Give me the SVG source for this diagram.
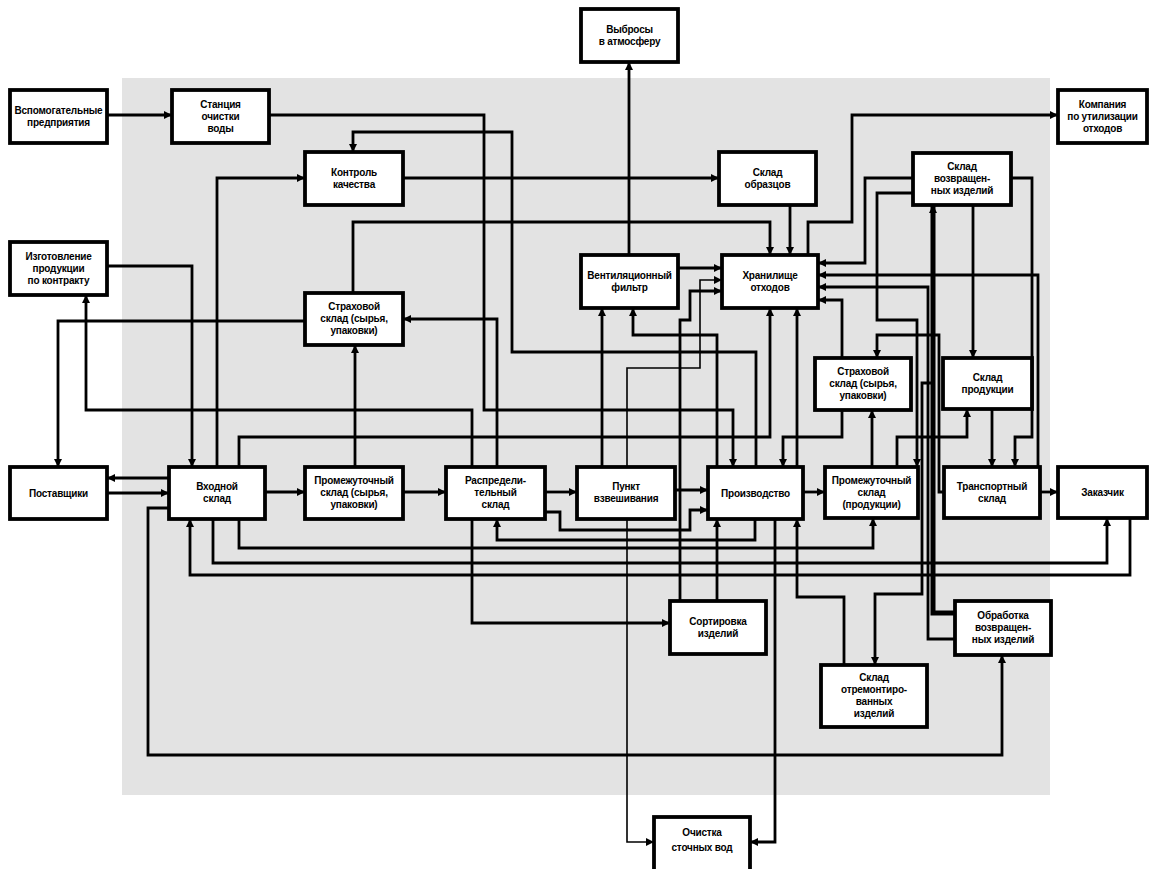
<svg xmlns="http://www.w3.org/2000/svg" width="1149" height="869" viewBox="0 0 1149 869">
<style>
.bg{fill:#e3e3e3}
.box{fill:#fff;stroke:#000;stroke-width:3.8}
.t{font-family:"Liberation Sans",Arial,sans-serif;font-size:10px;font-weight:bold;fill:#000;text-anchor:middle;letter-spacing:-0.2px}
.c path{fill:none;stroke:#000;stroke-width:2.8;stroke-linejoin:miter;marker-end:url(#ah)}
.c path.thin{stroke-width:1.6}
.c path.thick{stroke-width:5}
</style>
<defs>
<marker id="ah" markerWidth="10" markerHeight="10" refX="8" refY="4.5" orient="auto" markerUnits="userSpaceOnUse">
<path d="M0,0.5 L8,4.5 L0,8.5 z" fill="#000"/>
</marker>
</defs>
<rect width="1149" height="869" fill="#fff"/>
<rect class="bg" x="122" y="78" width="928" height="717"/>

<g id="connectors" class="c">
<path d="M107,115 H172"/>
<path d="M269,115 H484 V410 H733 V467"/>
<path d="M756,467 V352 H512 V132 H353 V152"/>
<path d="M403,178 H719"/>
<path d="M217,467 V178 H305"/>
<path d="M353,293 V222 H770 V255"/>
<path d="M790,205 V255"/>
<path d="M808,255 V222 H852 V115 H1058"/>
<path d="M629,255 V62"/>
<path d="M678,268 H722"/>
<path class="thin" d="M627,467 V368 H700 V280 H722"/>
<path d="M680,601 V320 H690 V291 H722"/>
<path d="M602,467 V308"/>
<path d="M717,467 V335 H633 V308"/>
<path d="M107,266 H192 V467"/>
<path d="M472,467 V410 H86 V295"/>
<path d="M497,467 V319 H403"/>
<path d="M305,321 H58 V467"/>
<path d="M355,467 V345"/>
<path d="M169,478 H107"/>
<path d="M107,493 H169"/>
<path d="M265,492 H305"/>
<path d="M403,492 H446"/>
<path d="M545,492 H577"/>
<path d="M675,490 H708"/>
<path d="M545,512 H560 V530 H690 V510 H708"/>
<path d="M755,519 V540 H497 V519"/>
<path d="M472,519 V623 H670"/>
<path d="M717,601 V519"/>
<path d="M844,665 V597 H797 V519"/>
<path d="M775,519 V842 H750"/>
<path class="thin" d="M627,519 V842 H654"/>
<path d="M239,467 V437 H770 V308"/>
<path d="M797,467 V308"/>
<path d="M842,410 V437 H783 V467"/>
<path d="M239,519 V548 H873 V518"/>
<path d="M213,519 V563 H1107 V518"/>
<path d="M1130,518 V575 H190 V519"/>
<path d="M169,508 H148 V755 H1002 V655"/>
<path d="M803,492 H825"/>
<path d="M1040,492 H1058"/>
<path d="M913,178 H865 V263 H818"/>
<path d="M913,193 H877 V320 H917 V467"/>
<path class="thick" d="M955,613 H933 V205"/>
<path d="M955,639 H928 V287 H818"/>
<path d="M933,383 H922 V594 H875 V665"/>
<path d="M944,492 H939 V335 H877 V358"/>
<path d="M842,358 V300 H818"/>
<path d="M1038,467 V275 H818"/>
<path d="M1011,178 H1032 V437 H1015 V467"/>
<path d="M973,205 V358"/>
<path d="M992,409 V467"/>
<path d="M897,467 V437 H967 V409"/>
<path d="M872,467 V410"/>
</g>

<g id="n_vspom"><rect class="box" x="10" y="90" width="97" height="53"/><text class="t" x="58.5" y="113.5">Вспомогательные</text><text class="t" x="58.5" y="125.5">предприятия</text></g>
<g id="n_stanc"><rect class="box" x="172" y="90" width="97" height="53"/><text class="t" x="220.5" y="107.5">Станция</text><text class="t" x="220.5" y="119.5">очистки</text><text class="t" x="220.5" y="131.5">воды</text></g>
<g id="n_kontrol"><rect class="box" x="305" y="152" width="98" height="53"/><text class="t" x="354" y="175.5">Контроль</text><text class="t" x="354" y="187.5">качества</text></g>
<g id="n_vybrosy"><rect class="box" x="581" y="9" width="97" height="53"/><text class="t" x="629.5" y="32.5">Выбросы</text><text class="t" x="629.5" y="44.5">в атмосферу</text></g>
<g id="n_obrazcy"><rect class="box" x="719" y="152" width="97" height="53"/><text class="t" x="767.5" y="175.5">Склад</text><text class="t" x="767.5" y="187.5">образцов</text></g>
<g id="n_kompan"><rect class="box" x="1058" y="90" width="89" height="53"/><text class="t" x="1102.5" y="107.5">Компания</text><text class="t" x="1102.5" y="119.5">по утилизации</text><text class="t" x="1102.5" y="131.5">отходов</text></g>
<g id="n_vozvr"><rect class="box" x="913" y="153" width="98" height="52"/><text class="t" x="962" y="170">Склад</text><text class="t" x="962" y="182">возвращен-</text><text class="t" x="962" y="194">ных изделий</text></g>
<g id="n_izgot"><rect class="box" x="10" y="242" width="97" height="53"/><text class="t" x="58.5" y="259.5">Изготовление</text><text class="t" x="58.5" y="271.5">продукции</text><text class="t" x="58.5" y="283.5">по контракту</text></g>
<g id="n_strah1"><rect class="box" x="305" y="293" width="98" height="52"/><text class="t" x="354" y="310">Страховой</text><text class="t" x="354" y="322">склад (сырья,</text><text class="t" x="354" y="334">упаковки)</text></g>
<g id="n_filtr"><rect class="box" x="581" y="255" width="97" height="53"/><text class="t" x="629.5" y="278.5">Вентиляционный</text><text class="t" x="629.5" y="290.5">фильтр</text></g>
<g id="n_hranil"><rect class="box" x="722" y="255" width="96" height="53"/><text class="t" x="770" y="278.5">Хранилище</text><text class="t" x="770" y="290.5">отходов</text></g>
<g id="n_strah2"><rect class="box" x="815" y="358" width="96" height="52"/><text class="t" x="863" y="375">Страховой</text><text class="t" x="863" y="387">склад (сырья,</text><text class="t" x="863" y="399">упаковки)</text></g>
<g id="n_prodsklad"><rect class="box" x="943" y="358" width="89" height="51"/><text class="t" x="987.5" y="380.5">Склад</text><text class="t" x="987.5" y="392.5">продукции</text></g>
<g id="n_postav"><rect class="box" x="10" y="467" width="97" height="52"/><text class="t" x="58.5" y="496.5">Поставщики</text></g>
<g id="n_vhod"><rect class="box" x="169" y="467" width="96" height="52"/><text class="t" x="217" y="490">Входной</text><text class="t" x="217" y="502">склад</text></g>
<g id="n_prom1"><rect class="box" x="305" y="467" width="98" height="52"/><text class="t" x="354" y="484">Промежуточный</text><text class="t" x="354" y="496">склад (сырья,</text><text class="t" x="354" y="508">упаковки)</text></g>
<g id="n_raspr"><rect class="box" x="446" y="467" width="99" height="52"/><text class="t" x="495.5" y="484">Распредели-</text><text class="t" x="495.5" y="496">тельный</text><text class="t" x="495.5" y="508">склад</text></g>
<g id="n_punkt"><rect class="box" x="577" y="467" width="98" height="52"/><text class="t" x="626" y="490">Пункт</text><text class="t" x="626" y="502">взвешивания</text></g>
<g id="n_proizv"><rect class="box" x="708" y="467" width="95" height="52"/><text class="t" x="755.5" y="496.5">Производство</text></g>
<g id="n_prom2"><rect class="box" x="825" y="467" width="93" height="51"/><text class="t" x="871.5" y="483.5">Промежуточный</text><text class="t" x="871.5" y="495.5">склад</text><text class="t" x="871.5" y="507.5">(продукции)</text></g>
<g id="n_trans"><rect class="box" x="944" y="467" width="96" height="51"/><text class="t" x="992" y="489.5">Транспортный</text><text class="t" x="992" y="501.5">склад</text></g>
<g id="n_zakaz"><rect class="box" x="1058" y="467" width="89" height="51"/><text class="t" x="1102.5" y="496">Заказчик</text></g>
<g id="n_sort"><rect class="box" x="670" y="601" width="96" height="53"/><text class="t" x="718" y="624.5">Сортировка</text><text class="t" x="718" y="636.5">изделий</text></g>
<g id="n_remont"><rect class="box" x="821" y="665" width="106" height="62"/><text class="t" x="874" y="681">Склад</text><text class="t" x="874" y="693">отремонтиро-</text><text class="t" x="874" y="705">ванных</text><text class="t" x="874" y="717">изделий</text></g>
<g id="n_obrab"><rect class="box" x="955" y="601" width="96" height="54"/><text class="t" x="1003" y="619">Обработка</text><text class="t" x="1003" y="631">возвращен-</text><text class="t" x="1003" y="643">ных изделий</text></g>
<g id="n_ochist"><rect class="box" x="654" y="817" width="96" height="56"/><text class="t" x="702" y="836">Очистка</text><text class="t" x="702" y="851">сточных вод</text></g>
</svg>
